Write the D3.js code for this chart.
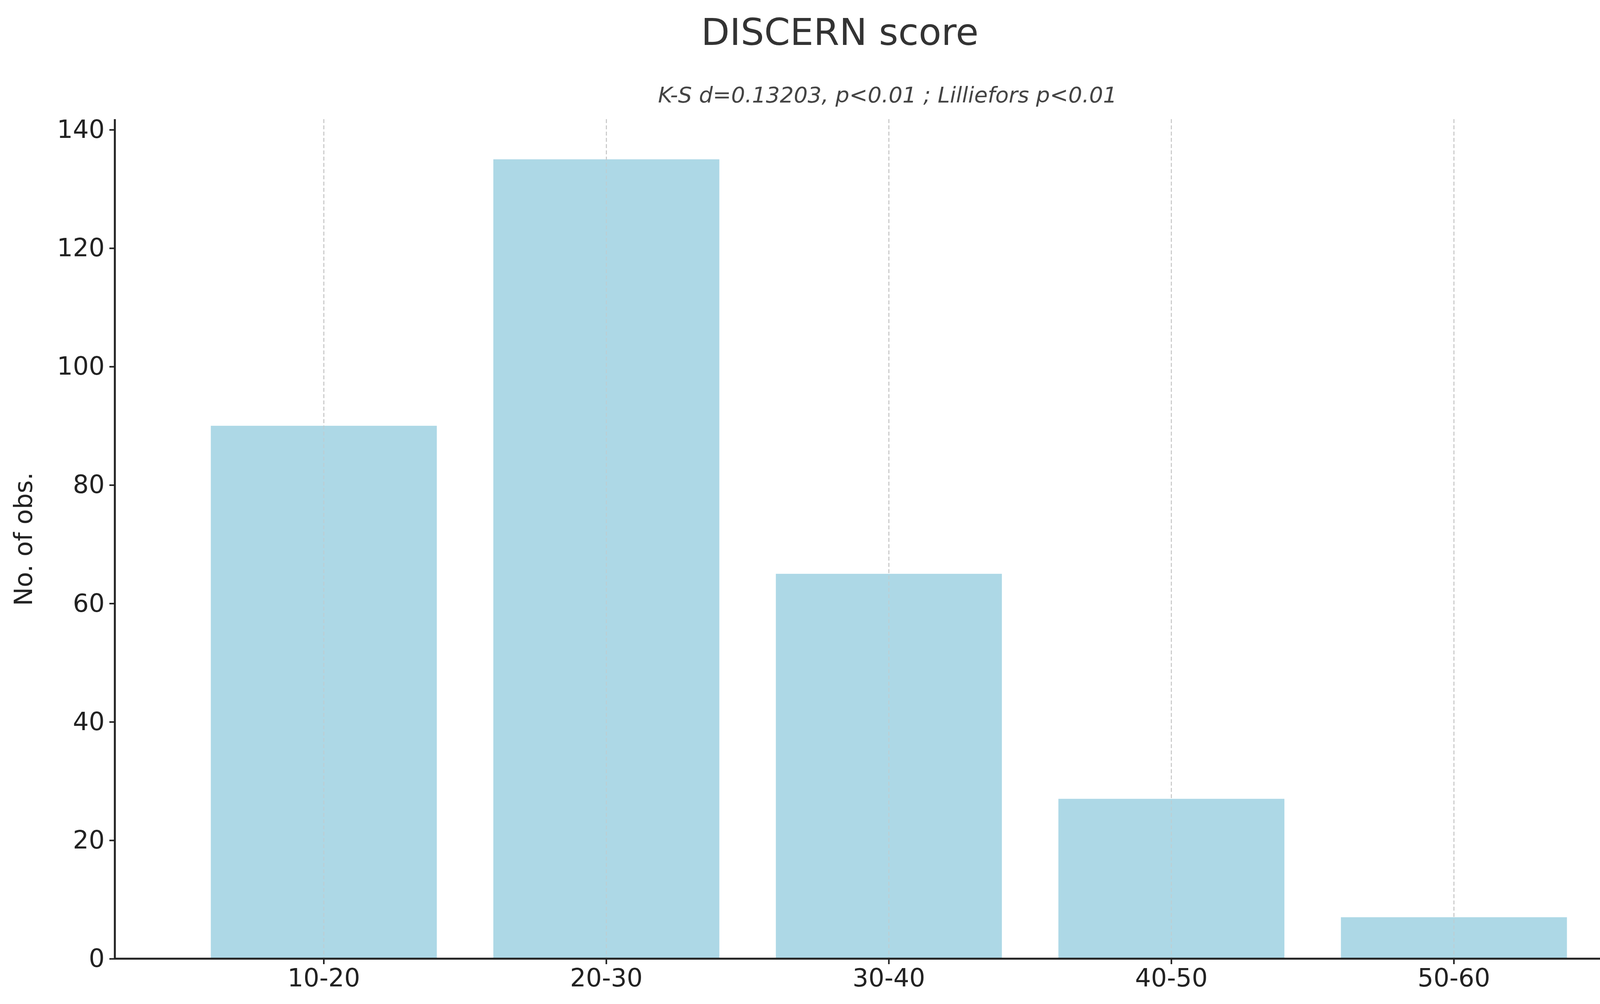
<!DOCTYPE html>
<html><head><meta charset="utf-8">
<script src="https://cdn.jsdelivr.net/npm/d3@7"></script>
<style>body{margin:0;background:#fff;overflow:hidden}text{font-family:"DejaVu Sans",sans-serif}</style>
</head><body><div id="chart"></div>
<script>
const categories = ["10-20", "20-30", "30-40", "40-50", "50-60"];
const counts = [90, 135, 65, 27, 7];
const yTicks = [0, 20, 40, 60, 80, 100, 120, 140];

const W = 4304, H = 2570;
const svg = d3.select("#chart").append("svg").attr("width", W).attr("height", H);

const x = d3.scaleBand().domain(categories).range([395, 4156]).padding(0.2);
const y = d3.scaleLinear().domain([0, 140]).range([2454, 332]);

const gridLines = g => g.selectAll("line").data(categories).enter().append("line")
  .attr("x1", d => x(d) + x.bandwidth() / 2).attr("x2", d => x(d) + x.bandwidth() / 2)
  .attr("y1", 305).attr("y2", 2454)
  .attr("stroke", "#c8c8c8").attr("stroke-width", 2.5).attr("stroke-dasharray", "10,6");

svg.append("g").call(gridLines);

svg.append("g").selectAll("rect").data(counts).enter().append("rect")
  .attr("x", (d, i) => x(categories[i])).attr("width", x.bandwidth())
  .attr("y", d => y(d)).attr("height", d => y(0) - y(d))
  .attr("fill", "#add8e6");

svg.append("g").attr("opacity", 0.6).call(gridLines);

const xAxis = svg.append("g").attr("transform", "translate(0,2454)")
  .call(d3.axisBottom(x).tickSize(14).tickPadding(12));
xAxis.select(".domain").attr("d", "M294,0H4263");
const yAxis = svg.append("g").attr("transform", "translate(294,0)")
  .call(d3.axisLeft(y).tickValues(yTicks).tickSize(14).tickPadding(12));
yAxis.select(".domain").attr("d", "M0,305V2454");
svg.selectAll(".domain").attr("stroke", "#222").attr("stroke-width", 5);
svg.selectAll(".tick line").attr("stroke", "#222").attr("stroke-width", 4);
svg.selectAll(".tick text").attr("font-size", 64).attr("fill", "#222").attr("font-family", "DejaVu Sans");

svg.append("text").attr("x", 2150).attr("y", 115).attr("text-anchor", "middle")
  .attr("font-size", 95).attr("fill", "#333").text("DISCERN score");
svg.append("text").attr("x", 2272).attr("y", 262).attr("text-anchor", "middle")
  .attr("font-size", 56).attr("font-style", "italic").attr("fill", "#444")
  .text("K-S d=0.13203, p<0.01 ; Lilliefors p<0.01");
svg.append("text").attr("transform", "translate(82,1380) rotate(-90)").attr("text-anchor", "middle")
  .attr("font-size", 64).attr("fill", "#222").text("No. of obs.");
</script></body></html>
